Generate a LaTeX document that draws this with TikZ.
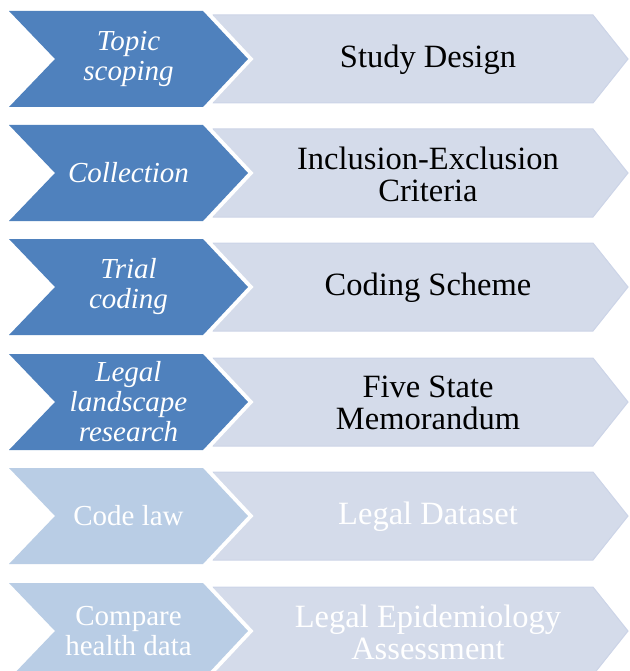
\documentclass[tikz,border=0pt]{standalone}
\usepackage{fontspec}
\setmainfont{Liberation Serif}
\definecolor{stepdone}{HTML}{4F81BD}
\definecolor{steptodo}{HTML}{B9CDE5}
\definecolor{resultfill}{HTML}{D4DBEA}
\definecolor{resultline}{HTML}{CCD4E7}
\tikzset{
  chevron/.style={preaction={draw=white,line width=8pt,line join=miter}},
  result/.style={fill=resultfill,draw=resultline,line width=1pt,line join=miter},
  steptext/.style={text=white,align=center,font=\fontsize{29}{30}\selectfont#1},
  steptext/.default={},
  resulttext/.style={align=center,font=\fontsize{32.5}{32}\selectfont}
}

\begin{document}
\begin{tikzpicture}[x=1pt,y=-1pt]
\useasboundingbox (0,0) rectangle (629,671);
\clip (0,0) rectangle (629,671);
% steps already carried out
\foreach \top/\step/\result [count=\i] in {
    11/{Topic\\scoping}/{Study Design},
    125/{Collection}/{Inclusion-Exclusion\\Criteria},
    239/{Trial\\coding}/{Coding Scheme},
    354/{Legal\\landscape\\research}/{Five State\\Memorandum}}{
  \draw[result] (213,\top+4) -- (593,\top+4) -- (628,\top+48) -- (593,\top+92) -- (213,\top+92) -- cycle;
  \fill[chevron,stepdone] (9,\top) -- (203,\top) -- (248,\top+48) -- (203,\top+96) -- (9,\top+96) -- (55,\top+48) -- cycle;
  \node[steptext=\itshape] (step\i) at (128.5,\top+48) {\step};
  \node[resulttext] (result\i) at (428,\top+49) {\result};
}
% steps still to come
\foreach \top/\step/\result [count=\i from 5] in {
    468/{Code law}/{Legal Dataset},
    583/{Compare\\health data}/{Legal Epidemiology\\Assessment}}{
  \draw[result] (213,\top+4) -- (593,\top+4) -- (628,\top+48) -- (593,\top+92) -- (213,\top+92) -- cycle;
  \fill[chevron,steptodo] (9,\top) -- (203,\top) -- (248,\top+48) -- (203,\top+96) -- (9,\top+96) -- (55,\top+48) -- cycle;
  \node[steptext] (step\i) at (128.5,\top+48) {\step};
  \node[resulttext,text=white] (result\i) at (428,\top+49) {\result};
}
\end{tikzpicture}
\end{document}
